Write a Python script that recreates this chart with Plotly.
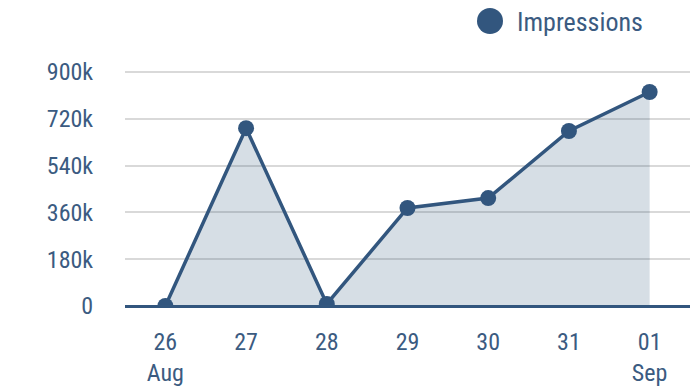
import plotly.graph_objects as go

days = [0, 1, 2, 3, 4, 5, 6]
tick_labels = ["26<br>Aug", "27", "28", "29", "30", "31", "01<br>Sep"]
impressions = [0, 684000, 8000, 377000, 415000, 673000, 823000]
y_ticks = [0, 180000, 360000, 540000, 720000, 900000]
y_tick_labels = ["0", "180k", "360k", "540k", "720k", "900k"]
series_name = "Impressions"

C = "#32567e"
TXT = "#3b5b81"
FONT = "Roboto Condensed, Liberation Sans Narrow, Roboto, sans-serif"

L, R, T, B = 125, 9, 46, 84
W, H = 699, 390
pw, ph = W - L - R, H - T - B

def px_x(px):
    return (px - L) / pw

def px_y(py):
    return (H - B - py) / ph

fig = go.Figure()
fig.add_trace(go.Scatter(
    x=days, y=impressions, name=series_name, mode="lines+markers",
    line=dict(color=C, width=3.5),
    marker=dict(color=C, size=16),
    fill="tozeroy", fillcolor="rgba(52,88,127,0.2)",
    showlegend=False,
))

# legend (drawn manually to match the large circle symbol)
fig.add_shape(type="circle", xref="paper", yref="paper",
              x0=px_x(477), x1=px_x(503), y0=px_y(34), y1=px_y(8),
              fillcolor=C, line=dict(width=0))
fig.add_annotation(text=series_name, xref="paper", yref="paper",
                   x=px_x(515), y=px_y(22), xanchor="left", yanchor="middle",
                   showarrow=False, font=dict(size=26, color=TXT))

fig.update_layout(
    width=W, height=H,
    margin=dict(l=L, r=R, t=T, b=B, autoexpand=False),
    paper_bgcolor="white", plot_bgcolor="white",
    font=dict(family=FONT, size=24, color=TXT),
    xaxis=dict(range=[-0.5, 6.5], tickvals=days, ticktext=tick_labels,
               showgrid=False, zeroline=False, showline=False, automargin=False,
               ticks="outside", ticklen=14, tickcolor="rgba(0,0,0,0)",
               tickfont=dict(size=24, color=TXT)),
    yaxis=dict(range=[0, 1000000], tickvals=y_ticks, ticktext=y_tick_labels,
               showgrid=True, gridcolor="#d9d9d9", gridwidth=2, automargin=False,
               zeroline=True, zerolinecolor=C, zerolinewidth=3,
               ticks="outside", ticklen=26, tickcolor="rgba(0,0,0,0)",
               tickfont=dict(size=24, color=TXT)),
)

fig.write_html("out.html")
